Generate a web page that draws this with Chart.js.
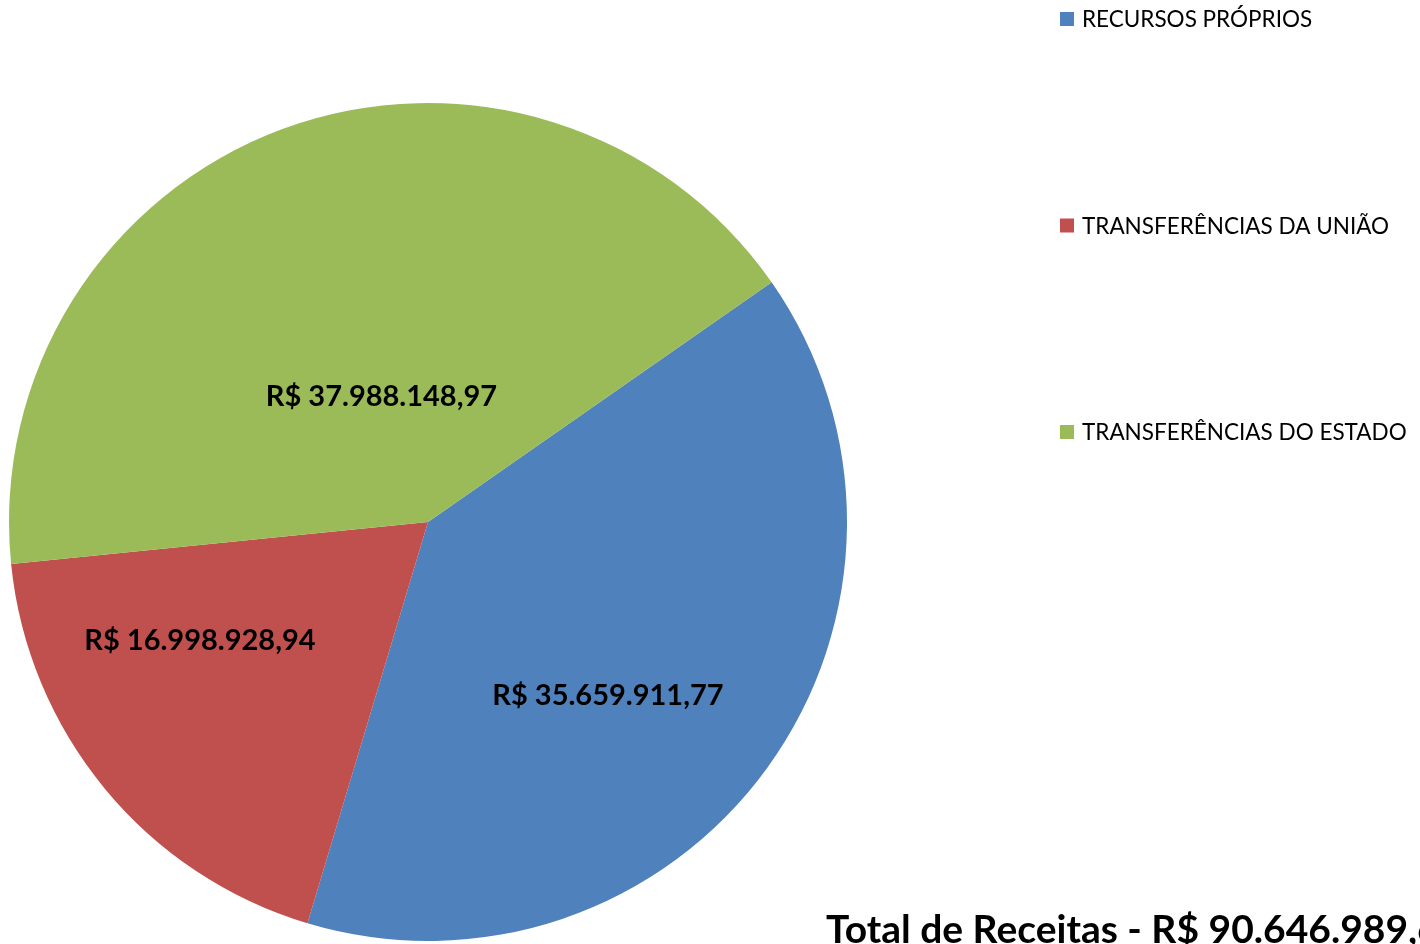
<!DOCTYPE html>
<html>
<head>
<meta charset="utf-8">
<script src="https://cdn.jsdelivr.net/npm/chart.js@4"></script>
<style>
  html, body { margin: 0; padding: 0; background: #fff; overflow: hidden; }
  #wrap { width: 1420px; height: 944px; position: relative; }
</style>
</head>
<body>
<div id="wrap"><canvas id="receitasChart"></canvas></div>
<script>
// dados do gráfico
const categorias = ['RECURSOS PRÓPRIOS', 'TRANSFERÊNCIAS DA UNIÃO', 'TRANSFERÊNCIAS DO ESTADO'];
const valores = [35659911.77, 16998928.94, 37988148.97];
const cores = ['#4F81BD', '#C0504D', '#9BBB59'];
const tituloTotal = 'Total de Receitas - R$ ';

function formatarReal(v) {
    const partes = v.toFixed(2).split('.');
    const inteiro = partes[0].replace(/\B(?=(\d{3})+(?!\d))/g, '.');
    return 'R$ ' + inteiro + ',' + partes[1];
}

const total = valores.reduce((a, b) => a + b, 0);

// rótulos dentro das fatias (posição polar: ângulo em graus a partir do topo, fração do raio)
const posRotulos = [
    { ang: 134, frac: 0.597 },
    { ang: 242.6, frac: 0.613 },
    { ang: 339.7, frac: 0.32 }
];

const rotulosPlugin = {
    id: 'rotulos',
    afterDatasetsDraw(chart) {
        const ctx = chart.ctx;
        const meta = chart.getDatasetMeta(0);
        ctx.save();
        ctx.font = 'bold 29px Lato';
        ctx.fillStyle = '#000';
        ctx.textAlign = 'center';
        ctx.textBaseline = 'middle';
        meta.data.forEach((arc, i) => {
            const p = arc.getProps(['x', 'y', 'outerRadius'], true);
            const a = posRotulos[i].ang * Math.PI / 180;
            const r = posRotulos[i].frac * p.outerRadius;
            ctx.fillText(formatarReal(chart.data.datasets[0].data[i]), p.x + Math.sin(a) * r, p.y - Math.cos(a) * r);
        });
        ctx.restore();
    }
};

// legenda à direita, no estilo do Excel
const legendaPlugin = {
    id: 'legendaDireita',
    afterDraw(chart) {
        const ctx = chart.ctx;
        ctx.save();
        ctx.font = '22.5px Lato';
        ctx.textBaseline = 'middle';
        chart.data.labels.forEach((lab, i) => {
            const y = 19 + i * 206.5;
            ctx.fillStyle = chart.data.datasets[0].backgroundColor[i];
            ctx.fillRect(1060, y - 7, 14, 14);
            ctx.fillStyle = '#000';
            ctx.fillText(lab, 1082, y + 1);
        });
        // total
        ctx.font = 'bold 39px Lato';
        ctx.textBaseline = 'alphabetic';
        ctx.fillText(tituloTotal + formatarReal(total).slice(3), 826, 943);
        ctx.restore();
    }
};

const ctx = document.getElementById('receitasChart').getContext('2d');
new Chart(ctx, {
    type: 'pie',
    data: {
        labels: categorias,
        datasets: [{
            data: valores,
            backgroundColor: cores,
            borderWidth: 0
        }]
    },
    options: {
        responsive: true,
        maintainAspectRatio: false,
        animation: false,
        rotation: 55.1,
        layout: { padding: { left: 9, right: 573, top: 103, bottom: 3 } },
        plugins: {
            legend: { display: false },
            tooltip: { enabled: false }
        }
    },
    plugins: [rotulosPlugin, legendaPlugin]
});
</script>
</body>
</html>
